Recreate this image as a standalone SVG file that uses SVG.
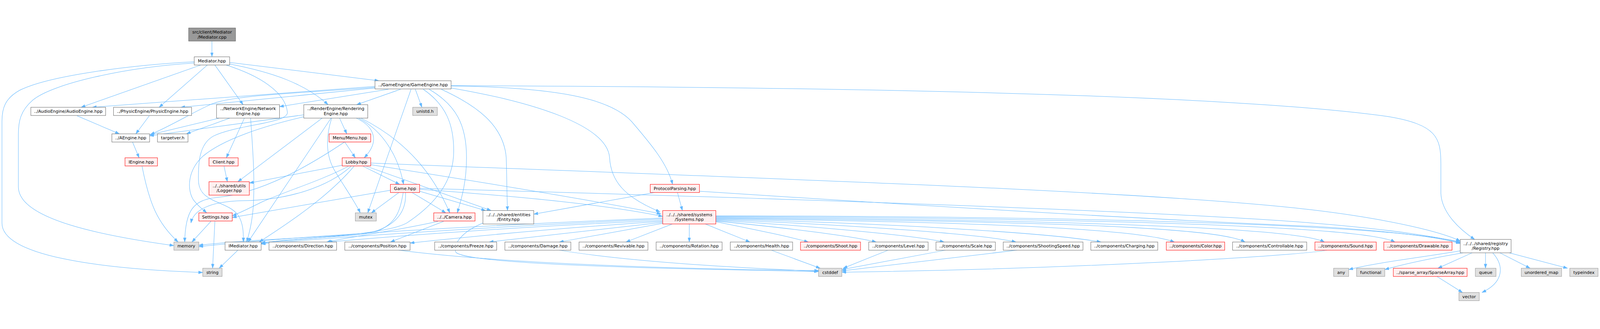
<svg xmlns="http://www.w3.org/2000/svg" width="4877" height="843" viewBox="0 0 4877 843" style="width:100vw;height:100vh">
<defs>
<marker id="a" viewBox="0 0 10 7" refX="10" refY="3.5" markerWidth="13" markerHeight="9.1" markerUnits="userSpaceOnUse" orient="auto"><path d="M0,0 L10,3.5 L0,7 z" fill="#63b8ff" stroke="#63b8ff" stroke-width="0.5"/></marker>
</defs>
<style>
.e path{fill:none;stroke:#63b8ff;stroke-width:1.2;marker-end:url(#a)}
.n rect{fill:#fff;stroke:#666;stroke-width:1.2}
.r rect{fill:#fff0f0;stroke:#f00;stroke-width:1.2}
.s rect{fill:#e0e0e0;stroke:#999;stroke-width:1.2}
.root rect{fill:#999;stroke:#666;stroke-width:1.2}
text{font-family:"DejaVu Sans","Liberation Sans",sans-serif;font-size:13px;text-anchor:middle;fill:#000}
</style>
<rect x="0" y="0" width="4877" height="843" fill="#fff"/>
<g id="edges" class="e">
<path d="M646,45 L646,93"/>
<path d="M592,108 C400,118 150,150 60,195 C15,220 6,250 6,290 L6,600 C6,700 300,740 618,751"/>
<path d="M592,112 C380,125 160,175 100,225 C62,258 56,290 56,330 L56,490 C56,590 320,640 530,669"/>
<path d="M612,118 L247,247"/>
<path d="M632,118 L485,247"/>
<path d="M655,118 L741,239"/>
<path d="M689,118 C790,150 870,200 876,262 C880,296 720,300 650,335 C606,360 604,420 605,470 C606,540 690,530 725,575 C742,600 742,630 742,658"/>
<path d="M700,110 L1155,166"/>
<path d="M700,115 C830,140 930,175 1000,239"/>
<path d="M1143,183 L281,247"/>
<path d="M1143,188 L551,247"/>
<path d="M1184,192 L852,245"/>
<path d="M1143,186 C900,205 720,210 650,235 C600,255 520,305 458,330"/>
<path d="M1221,192 L1087,239"/>
<path d="M1266,192 L1286,247"/>
<path d="M1253,192 L1121,569"/>
<path d="M1290,192 C1360,240 1383,300 1383,380 C1383,470 1330,540 1240,600 C1180,635 900,650 796,660"/>
<path d="M1308,192 C1390,240 1422,300 1422,400 C1422,480 1405,530 1394,569"/>
<path d="M1345,192 C1450,240 1535,300 1543,400 C1545,460 1545,520 1547,562"/>
<path d="M1375,188 C1620,230 1850,300 1858,400 C1862,470 1900,520 2012,566"/>
<path d="M1375,182 C1700,186 1860,220 1925,290 C1985,360 2035,420 2050,482"/>
<path d="M1375,181 C2800,186 3800,215 4230,275 C4380,300 4392,340 4392,420 L4392,510 C4395,570 4450,620 4495,650"/>
<path d="M668,280 L456,331"/>
<path d="M700,280 L568,328"/>
<path d="M745,280 L690,401"/>
<path d="M764,280 C768,350 778,450 772,550 C768,600 760,630 752,658"/>
<path d="M926,270 L456,334"/>
<path d="M926,276 C800,305 680,345 620,395 C570,440 570,500 590,530 C605,550 620,560 630,569"/>
<path d="M982,280 L725,474"/>
<path d="M1009,280 L756,658"/>
<path d="M1035,280 L1057,328"/>
<path d="M1086,280 C1140,305 1160,350 1110,401"/>
<path d="M1093,280 C1170,320 1215,400 1230,482"/>
<path d="M1100,280 C1240,350 1320,450 1371,569"/>
<path d="M1011,280 C995,330 990,390 1020,440 C1050,490 1085,540 1098,569"/>
<path d="M235,273 L364,328"/>
<path d="M455,273 L414,328"/>
<path d="M404,353 L424,401"/>
<path d="M433,427 C455,540 480,600 543,658"/>
<path d="M683,427 L693,474"/>
<path d="M1051,353 L1083,401"/>
<path d="M1050,353 C950,420 800,510 660,522 C590,530 565,560 563,658"/>
<path d="M1043,424 L760,478"/>
<path d="M1062,427 C980,470 880,500 800,535 C760,555 730,570 708,578"/>
<path d="M1070,427 C1000,490 880,530 740,532 C640,534 590,560 582,600"/>
<path d="M1079,427 C1000,520 880,600 790,658"/>
<path d="M1107,427 L1218,482"/>
<path d="M1117,427 L1497,562"/>
<path d="M1130,422 C1500,480 1800,530 2015,572"/>
<path d="M1130,417 C2200,460 3500,500 4000,560 C4250,590 4400,630 4451,655"/>
<path d="M1190,500 L708,583"/>
<path d="M1216,507 L1132,569"/>
<path d="M1256,507 L1359,569"/>
<path d="M1279,503 L1480,562"/>
<path d="M1279,497 C1600,520 1850,545 2020,580"/>
<path d="M1279,494 C2200,520 3500,560 4000,600 C4250,620 4400,645 4451,660"/>
<path d="M1229,507 C1220,560 1210,600 1150,625 C1050,645 800,645 606,668"/>
<path d="M1236,507 C1240,570 1200,620 1100,635 C1000,645 850,650 796,663"/>
<path d="M1995,507 L1627,573"/>
<path d="M2065,507 L2080,562"/>
<path d="M2132,503 C2700,540 3500,590 4000,610 C4250,625 4400,645 4451,663"/>
<path d="M643,595 L585,658"/>
<path d="M655,595 L648,738"/>
<path d="M1335,595 C1200,625 1050,645 996,658"/>
<path d="M1352,595 L1190,658"/>
<path d="M1472,600 C1400,630 1380,670 1390,690 C1420,715 1700,735 2495,748"/>
<path d="M2020,585 C1500,605 900,640 606,672"/>
<path d="M2020,588 C1500,610 1000,645 796,664"/>
<path d="M2020,592 C1600,610 1200,640 1000,658"/>
<path d="M2020,595 C1700,615 1400,645 1250,661"/>
<path d="M2020,598 L1491,658"/>
<path d="M2020,601 L1705,658"/>
<path d="M2049,603 L1908,658"/>
<path d="M2101,603 L2101,658"/>
<path d="M2150,603 L2286,658"/>
<path d="M2182,596 C2300,620 2400,640 2464,658"/>
<path d="M2182,594 C2400,615 2600,640 2671,658"/>
<path d="M2182,592 C2500,610 2800,640 2878,658"/>
<path d="M2182,590 C2600,605 3000,635 3097,658"/>
<path d="M2182,588 C2700,600 3200,630 3356,658"/>
<path d="M2182,586 C2800,595 3450,610 3580,658"/>
<path d="M2182,584 C3000,595 3700,605 3795,658"/>
<path d="M2182,582 C3100,590 3950,610 4037,658"/>
<path d="M2182,580 C3200,585 4150,605 4252,658"/>
<path d="M2182,578 C3200,580 4200,600 4451,658"/>
<path d="M1215,683 C1500,720 2000,740 2495,745"/>
<path d="M1705,683 C1900,715 2200,735 2495,747"/>
<path d="M2351,683 L2500,738"/>
<path d="M2707,683 L2570,738"/>
<path d="M2882,683 L2566,742"/>
<path d="M3100,683 L2566,746"/>
<path d="M4045,683 C3950,700 3300,740 2566,750"/>
<path d="M725,683 L668,738"/>
<path d="M4451,685 C4300,710 4200,720 4111,742"/>
<path d="M4460,691 C4350,710 4280,725 4221,742"/>
<path d="M4487,691 L4383,738"/>
<path d="M4528,691 L4528,738"/>
<path d="M4550,691 C4585,730 4585,780 4517,812"/>
<path d="M4572,691 L4664,738"/>
<path d="M4600,691 L4778,738"/>
<path d="M4380,763 L4458,812"/>
</g>
<g id="n_root" class="root"><rect x="575" y="5" width="143" height="40"/><text x="646.5" y="22">src/client/Mediator</text><text x="646.5" y="37">/Mediator.cpp</text></g>
<g id="n_med" class="n"><rect x="592" y="93" width="108" height="25"/><text x="646" y="110">Mediator.hpp</text></g>
<g id="n_gameengine" class="n"><rect x="1143" y="166" width="232" height="25"/><text x="1259" y="183">../GameEngine/GameEngine.hpp</text></g>
<g id="n_audio" class="n"><rect x="94" y="247" width="228" height="25"/><text x="208" y="264">../AudioEngine/AudioEngine.hpp</text></g>
<g id="n_physic" class="n"><rect x="346" y="247" width="238" height="25"/><text x="465" y="264">../PhysicEngine/PhysicEngine.hpp</text></g>
<g id="n_network" class="n"><rect x="660" y="239" width="192" height="41"/><text x="756" y="256">../NetworkEngine/Network</text><text x="756" y="271">Engine.hpp</text></g>
<g id="n_render" class="n"><rect x="926" y="239" width="195" height="41"/><text x="1023.5" y="256">../RenderEngine/Rendering</text><text x="1023.5" y="271">Engine.hpp</text></g>
<g id="n_unistd" class="s"><rect x="1258" y="247" width="75" height="25"/><text x="1295.5" y="264">unistd.h</text></g>
<g id="n_aengine" class="n"><rect x="341" y="328" width="115" height="25"/><text x="398.5" y="345">../AEngine.hpp</text></g>
<g id="n_targetver" class="n"><rect x="480" y="328" width="93" height="25"/><text x="526.5" y="345">targetver.h</text></g>
<g id="n_menu" class="r"><rect x="1003" y="328" width="127" height="25"/><text x="1066.5" y="345">Menu/Menu.hpp</text></g>
<g id="n_iengine" class="r"><rect x="381" y="401" width="99" height="25"/><text x="430.5" y="418">IEngine.hpp</text></g>
<g id="n_client" class="r"><rect x="637" y="401" width="89" height="25"/><text x="681.5" y="418">Client.hpp</text></g>
<g id="n_lobby" class="r"><rect x="1043" y="401" width="87" height="25"/><text x="1086.5" y="418">Lobby.hpp</text></g>
<g id="n_logger" class="r"><rect x="637" y="474" width="123" height="41"/><text x="698.5" y="491">../../shared/utils</text><text x="698.5" y="506">/Logger.hpp</text></g>
<g id="n_game" class="r"><rect x="1190" y="482" width="89" height="25"/><text x="1234.5" y="499">Game.hpp</text></g>
<g id="n_protocol" class="r"><rect x="1982" y="482" width="150" height="25"/><text x="2057" y="499">ProtocolParsing.hpp</text></g>
<g id="n_settings" class="r"><rect x="606" y="569" width="102" height="25"/><text x="657" y="586">Settings.hpp</text></g>
<g id="n_mutex" class="s"><rect x="1083" y="569" width="64" height="25"/><text x="1115" y="586">mutex</text></g>
<g id="n_camera" class="r"><rect x="1322" y="569" width="126" height="25"/><text x="1385" y="586">../../Camera.hpp</text></g>
<g id="n_entity" class="n"><rect x="1472" y="562" width="155" height="41"/><text x="1549.5" y="579">../../../shared/entities</text><text x="1549.5" y="594">/Entity.hpp</text></g>
<g id="n_systems" class="r"><rect x="2020" y="562" width="162" height="41"/><text x="2101" y="579">../../../shared/systems</text><text x="2101" y="594">/Systems.hpp</text></g>
<g id="n_memory" class="s"><rect x="530" y="658" width="76" height="25"/><text x="568" y="675">memory</text></g>
<g id="n_imediator" class="n"><rect x="686" y="658" width="110" height="25"/><text x="741" y="675">IMediator.hpp</text></g>
<g id="n_direction" class="n"><rect x="820" y="658" width="206" height="25"/><text x="923" y="675">../components/Direction.hpp</text></g>
<g id="n_position" class="n"><rect x="1051" y="658" width="199" height="25"/><text x="1150.5" y="675">../components/Position.hpp</text></g>
<g id="n_freeze" class="n"><rect x="1325" y="658" width="189" height="25"/><text x="1419.5" y="675">../components/Freeze.hpp</text></g>
<g id="n_damage" class="n"><rect x="1539" y="658" width="201" height="25"/><text x="1639.5" y="675">../components/Damage.hpp</text></g>
<g id="n_revivable" class="n"><rect x="1765" y="658" width="210" height="25"/><text x="1870" y="675">../components/Revivable.hpp</text></g>
<g id="n_rotation" class="n"><rect x="2000" y="658" width="201" height="25"/><text x="2100.5" y="675">../components/Rotation.hpp</text></g>
<g id="n_health" class="n"><rect x="2226" y="658" width="190" height="25"/><text x="2321" y="675">../components/Health.hpp</text></g>
<g id="n_shoot" class="r"><rect x="2440" y="658" width="183" height="25"/><text x="2531.5" y="675">../components/Shoot.hpp</text></g>
<g id="n_level" class="n"><rect x="2648" y="658" width="181" height="25"/><text x="2738.5" y="675">../components/Level.hpp</text></g>
<g id="n_scale" class="n"><rect x="2853" y="658" width="181" height="25"/><text x="2943.5" y="675">../components/Scale.hpp</text></g>
<g id="n_shootingspeed" class="n"><rect x="3058" y="658" width="243" height="25"/><text x="3179.5" y="675">../components/ShootingSpeed.hpp</text></g>
<g id="n_charging" class="n"><rect x="3325" y="658" width="204" height="25"/><text x="3427" y="675">../components/Charging.hpp</text></g>
<g id="n_color" class="r"><rect x="3555" y="658" width="178" height="25"/><text x="3644" y="675">../components/Color.hpp</text></g>
<g id="n_controllable" class="n"><rect x="3757" y="658" width="226" height="25"/><text x="3870" y="675">../components/Controllable.hpp</text></g>
<g id="n_sound" class="r"><rect x="4008" y="658" width="187" height="25"/><text x="4101.5" y="675">../components/Sound.hpp</text></g>
<g id="n_drawable" class="r"><rect x="4218" y="658" width="208" height="25"/><text x="4322" y="675">../components/Drawable.hpp</text></g>
<g id="n_registry" class="n"><rect x="4451" y="650" width="155" height="41"/><text x="4528.5" y="667">../../../shared/registry</text><text x="4528.5" y="682">/Registry.hpp</text></g>
<g id="n_string" class="s"><rect x="618" y="738" width="59" height="25"/><text x="647.5" y="755">string</text></g>
<g id="n_cstddef" class="s"><rect x="2495" y="738" width="71" height="25"/><text x="2530.5" y="755">cstddef</text></g>
<g id="n_any" class="s"><rect x="4065" y="738" width="46" height="25"/><text x="4088" y="755">any</text></g>
<g id="n_functional" class="s"><rect x="4135" y="738" width="86" height="25"/><text x="4178" y="755">functional</text></g>
<g id="n_sparse" class="r"><rect x="4247" y="738" width="225" height="25"/><text x="4359.5" y="755">../sparse_array/SparseArray.hpp</text></g>
<g id="n_queue" class="s"><rect x="4497" y="738" width="63" height="25"/><text x="4528.5" y="755">queue</text></g>
<g id="n_unordered_map" class="s"><rect x="4637" y="738" width="123" height="25"/><text x="4698.5" y="755">unordered_map</text></g>
<g id="n_typeindex" class="s"><rect x="4785" y="738" width="86" height="25"/><text x="4828" y="755">typeindex</text></g>
<g id="n_vector" class="s"><rect x="4447" y="812" width="62" height="25"/><text x="4478" y="829">vector</text></g>
</svg>
